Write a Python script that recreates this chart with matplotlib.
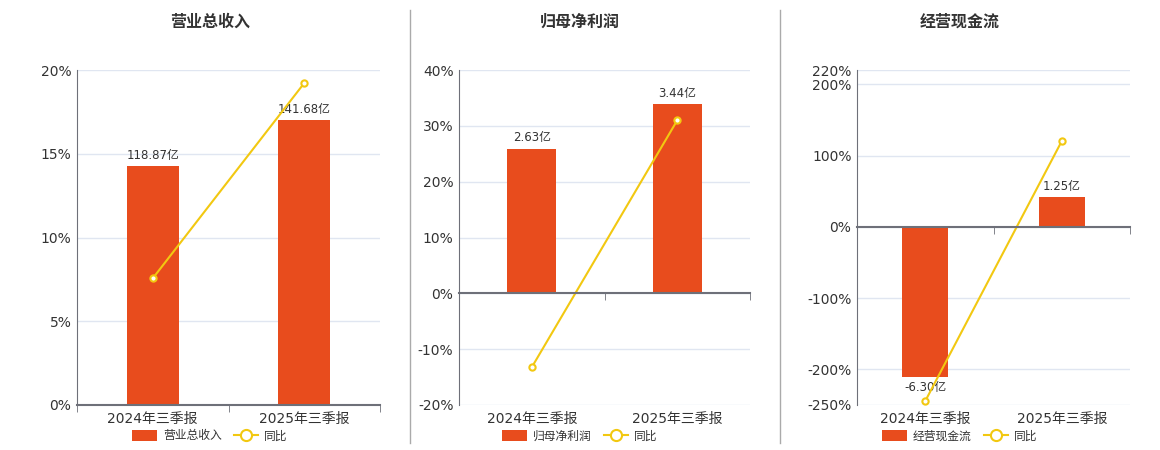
import matplotlib
matplotlib.use('Agg')
import matplotlib.pyplot as plt
from matplotlib.patches import Patch
from matplotlib.lines import Line2D
from matplotlib.ticker import FuncFormatter

plt.rcParams['font.family'] = ['DejaVu Sans', 'Noto Sans CJK SC']

# data
categories = ['2024年三季报', '2025年三季报']
titles = ['营业总收入', '归母净利润', '经营现金流']
bar_values = [[118.87, 141.68], [2.63, 3.44], [-6.30, 1.25]]   # 亿
yoy_values = [[7.56, 19.22], [-13.25, 30.99], [-244.5, 120.2]]  # %
pct_ticks = [[0, 5, 10, 15, 20], [-20, -10, 0, 10, 20, 30, 40],
             [-250, -200, -100, 0, 100, 200, 220]]
bar_tops = [166.5, 4.06, 6.57]

# layout (pixels of a 1160x450 canvas)
W, H = 1160, 450
axes_px = [(77, 380), (459, 750), (857, 1130)]
centers_px = [210, 580, 960]
top_px, bottom_px = 70, 405

bar_color = '#E84C1D'
line_color = '#F2C811'
axis_color = '#6E7079'
grid_color = '#E0E6F1'
text_color = '#333333'

fig = plt.figure(figsize=(W / 100, H / 100), dpi=100)
fig.patch.set_facecolor('white')

for i in range(3):
    l, r = axes_px[i]
    rect = [l / W, 1 - bottom_px / H, (r - l) / W, (bottom_px - top_px) / H]
    lo, hi = pct_ticks[i][0], pct_ticks[i][-1]

    # base axes: grid, y ticks, category labels
    ax = fig.add_axes(rect)
    ax.set_xlim(-0.5, 1.5)
    ax.set_ylim(lo, hi)
    ax.set_yticks(pct_ticks[i])
    ax.yaxis.set_major_formatter(FuncFormatter(lambda v, p: f'{v:.0f}%'))
    ax.grid(axis='y', color=grid_color, lw=1)
    ax.set_axisbelow(True)
    for s in ['top', 'right', 'bottom']:
        ax.spines[s].set_visible(False)
    ax.spines['left'].set_color(axis_color)
    ax.set_xticks([0, 1])
    ax.set_xticks([-0.5, 0.5, 1.5], minor=True)
    ax.set_xticklabels(categories)
    ax.tick_params(axis='y', length=0, labelsize=10, labelcolor=text_color, pad=4)
    ax.tick_params(axis='x', which='both', length=0, labelsize=10,
                   labelcolor=text_color, pad=5)

    # bars on their own hidden scale, zero aligned with 0%
    ax_bar = ax.twinx()
    ax_bar.set_ylim(lo / hi * bar_tops[i], bar_tops[i])
    bars = ax_bar.bar([0, 1], bar_values[i], width=0.34, color=bar_color)
    ax_bar.bar_label(bars, labels=[f'{v:.2f}亿' for v in bar_values[i]],
                     padding=3, fontsize=8.5, color=text_color)
    ax_bar.set_yticks([])
    for s in ax_bar.spines.values():
        s.set_visible(False)

    # yoy line plus the zero axis line
    ax_line = ax.twinx()
    ax_line.set_ylim(lo, hi)
    ax_line.plot([0, 1], yoy_values[i], color=line_color, lw=1.5,
                 marker='o', ms=4.5, mfc='white', mec=line_color, mew=1.5,
                 clip_on=False)
    ax_line.set_yticks([])
    for s in ['top', 'right', 'left']:
        ax_line.spines[s].set_visible(False)
    ax_line.xaxis.set_visible(True)
    ax_line.spines['bottom'].set_position(('data', 0))
    ax_line.spines['bottom'].set_color(axis_color)
    ax_line.spines['bottom'].set_linewidth(1.5)
    ax_line.tick_params(axis='x', which='major', length=0, labelbottom=False)
    ax_line.tick_params(axis='x', which='minor', length=5, color=axis_color,
                        labelbottom=False)

    fig.text(centers_px[i] / W, 1 - 22 / H, titles[i], ha='center', va='center',
             fontsize=11.5, fontweight='bold', color=text_color)

    handles = [Patch(facecolor=bar_color, edgecolor='none'),
               Line2D([], [], color=line_color, lw=1.5, marker='o', ms=8,
                      mfc='white', mec=line_color, mew=1.5)]
    fig.legend(handles, [titles[i], '同比'], loc='center',
               bbox_to_anchor=(centers_px[i] / W, 1 - 436 / H), ncol=2,
               frameon=False, fontsize=8.5, handlelength=2.1, handleheight=1.1,
               columnspacing=1.0, handletextpad=0.5, labelcolor=text_color)

for x in [410, 780]:
    fig.add_artist(Line2D([x / W, x / W], [1 - 10 / H, 1 - 443 / H],
                          color='#AAAAAA', lw=1))

fig.savefig('out.png', dpi=100)
